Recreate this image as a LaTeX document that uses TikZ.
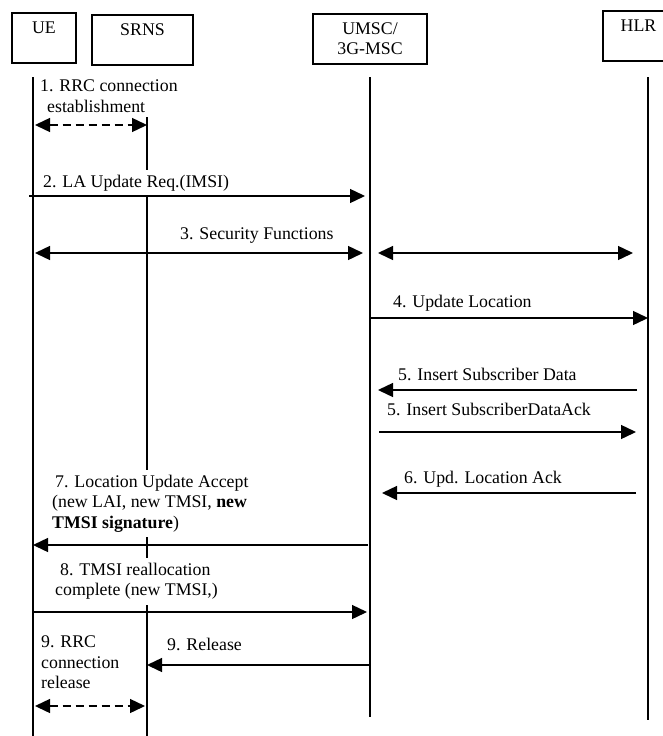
\documentclass[tikz,border=0pt]{standalone}
\usepackage{fontspec}
\setmainfont{Liberation Serif}
\usetikzlibrary{arrows.meta}

\begin{document}
\begin{tikzpicture}[x=1pt, y=-1pt, font=\fontsize{17.8}{20.5}\selectfont,
    box/.style={draw, line width=1.5pt, anchor=north, inner ysep=8pt, minimum height=50pt},
    tall/.style={text height=13pt, text depth=21pt},
    life/.style={line width=1.8pt},
    msg/.style={line width=1.4pt, -{Triangle[length=15pt,width=14pt]}},
    twoway/.style={line width=1.4pt, {Triangle[length=15pt,width=14pt]}-{Triangle[length=15pt,width=14pt]}},
    lbl/.style={fill=white, inner xsep=2pt, inner ysep=5pt, align=left, anchor=north west}]
\useasboundingbox (0,0) rectangle (663,736);

\node[box, tall, minimum width=64pt] (ue) at (44,12) {UE};
\node[box, tall, minimum width=101pt] (srns) at (142.5,14) {SRNS};
\node[box, align=center, minimum width=114pt] (umsc) at (370,13) {UMSC/\\3G-MSC};
\node[box, tall, minimum width=71pt] (hlr) at (638.5,10) {HLR};

\foreach \id/\x/\e in {uel/33/736, srnsl/147/736, umscl/370/717, hlrl/648/720}
    \draw[life] (\x,77) coordinate (\id) -- (\x,\e); % líneas de vida
\foreach \rw/\y in {r1/125, r2/196, r3/253, r4/318, r5/390, r6/432, r7/493, r8/545, r9/612, r10/665, r11/706}
    \coordinate (\rw) at (0,\y);

\node[lbl] (t1) at (38,74.7) {1. RRC connection\\\hspace*{7pt}establishment};
\node[lbl] (t2) at (41,169.7) {2. LA Update Req.(IMSI)};
\node[lbl] (t3) at (178,222.7) {3. Security Functions};
\node[lbl] (t4) at (391,289.7) {4. Update Location};
\node[lbl] (t5) at (396,362.7) {5. Insert Subscriber Data};
\node[lbl] (t5ack) at (385,397.7) {5. Insert SubscriberDataAck};
\node[lbl] (t6) at (402,465.7) {6. Upd. Location Ack};
\node[lbl] (t7) at (50,469.7) {\hspace*{3pt}7. Location Update Accept\\(new LAI, new TMSI, \textbf{new}\\\textbf{TMSI signature})};
\node[lbl] (t8) at (53,557.7) {\hspace*{5pt}8. TMSI reallocation\\complete (new TMSI,)};
\node[lbl] (t9) at (39,630.7) {9. RRC\\connection\\release};
\node[lbl] (t9rel) at (165,632.7) {9. Release};

\draw[twoway, dash pattern=on 8pt off 5pt, shorten <=2pt] (uel |- r1) -- (srnsl |- r1);
\draw[msg, shorten <=-4pt, shorten >=5pt] (uel |- r2) -- (umscl |- r2);
\draw[twoway, shorten <=2pt, shorten >=7pt] (uel |- r3) -- (umscl |- r3);
\draw[twoway, shorten <=8pt, shorten >=15pt] (umscl |- r3) -- (hlrl |- r3);
\draw[msg] (umscl |- r4) -- (hlrl |- r4);
\draw[msg, shorten <=11pt, shorten >=8pt] (hlrl |- r5) -- (umscl |- r5);
\draw[msg, shorten <=9pt, shorten >=12pt] (umscl |- r6) -- (hlrl |- r6);
\draw[msg, shorten <=12pt, shorten >=12pt] (hlrl |- r7) -- (umscl |- r7);
\draw[msg, shorten <=2pt] (umscl |- r8) -- (uel |- r8);
\draw[msg, shorten >=3pt] (uel |- r9) -- (umscl |- r9);
\draw[msg] (umscl |- r10) -- (srnsl |- r10);
\draw[twoway, dash pattern=on 8pt off 5pt, shorten <=2pt, shorten >=2pt] (uel |- r11) -- (srnsl |- r11);
\end{tikzpicture}
\end{document}
